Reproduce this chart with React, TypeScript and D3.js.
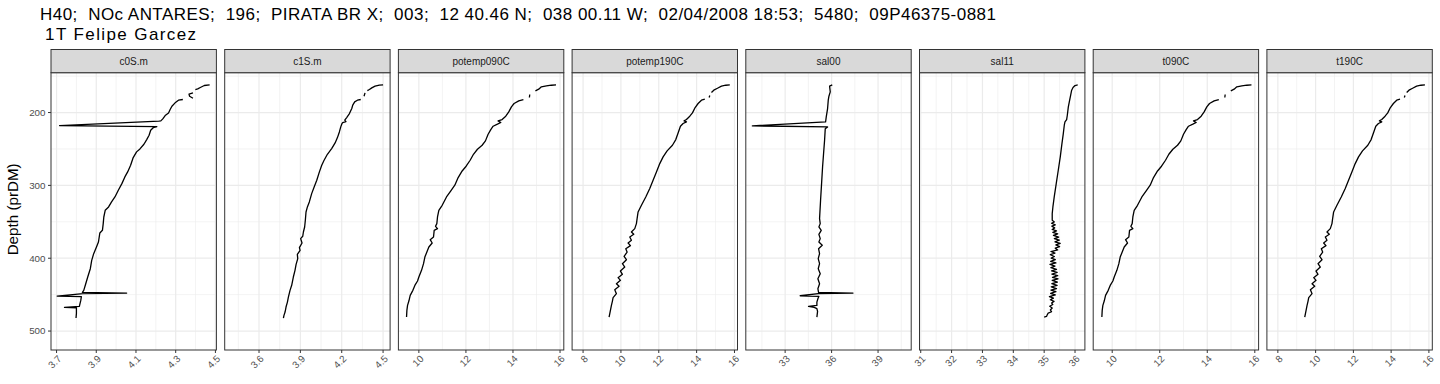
import React from "react";
import * as d3 from "d3";

type Pt = [number, number] | null;

const titleLine1 = "H40;  NOc ANTARES;  196;  PIRATA BR X;  003;  12 40.46 N;  038 00.11 W;  02/04/2008 18:53;  5480;  09P46375-0881";
const titleLine2 = " 1T Felipe Garcez";
const yTitle = "Depth (prDM)";

const panelNames = ["c0S.m", "c1S.m", "potemp090C", "potemp190C", "sal00", "sal11", "t090C", "t190C"];

const depthDomain = [145.3, 526];
const depthMajor = [200, 300, 400, 500];
const depthMinor = [150, 250, 350, 450];

// [depth, value]; null = gap
const c0S: Pt[] = [
  [162.0, 4.471], [162.9, 4.444], [165.6, 4.424], [167.5, 4.411], [168.4, 4.399], null,
  [173.0, 4.387], [174.8, 4.367], [177.6, 4.370], [180.3, 4.387], null,
  [182.1, 4.336], [183.1, 4.314], [186.7, 4.297], [191.3, 4.281], [195.9, 4.272], [200.5, 4.264],
  [204.1, 4.247], [208.7, 4.235], [211.5, 4.225], [211.9, 4.215], [217.9, 3.715], [219.2, 4.205],
  [220.6, 4.188], [224.3, 4.174], [231.1, 4.166], [237.1, 4.154], [243.5, 4.140], [249.9, 4.120],
  [254.0, 4.103], [261.8, 4.086], [272.4, 4.073], [281.5, 4.058], [288.4, 4.044], [297.6, 4.029],
  [306.7, 4.011], [315.9, 3.994], [322.7, 3.977], [329.6, 3.962], [334.2, 3.945], [343.4, 3.938],
  [352.5, 3.935], [361.7, 3.931], [365.3, 3.918], [377.7, 3.911], [384.6, 3.901], [393.7, 3.887],
  [402.9, 3.877], [414.4, 3.870], [425.8, 3.857], [435.0, 3.847], [444.1, 3.837], [446.9, 3.830],
  [447.8, 4.053], [448.7, 3.833], [451.9, 3.703], [452.7, 3.825], [457.9, 3.822], [464.8, 3.816],
  [466.1, 3.815], [467.6, 3.740], [468.0, 3.800], [475.7, 3.800], [482.1, 3.798],
];

const c1S: Pt[] = [
  [162.0, 4.500], [162.5, 4.473], [163.8, 4.442], [166.1, 4.418], [168.4, 4.401], [169.8, 4.386], null,
  [173.0, 4.369], [177.6, 4.362], null,
  [182.1, 4.338], [183.1, 4.314], [185.3, 4.294], [189.9, 4.280], [194.5, 4.273], [201.4, 4.256],
  [206.9, 4.236], [210.5, 4.222], [212.4, 4.231], [213.7, 4.207], [216.0, 4.200], [219.7, 4.193],
  [226.6, 4.183], [234.4, 4.169], [241.7, 4.152], [249.5, 4.127], [257.3, 4.096], [265.5, 4.072],
  [272.4, 4.055], [281.5, 4.038], [293.0, 4.019], [302.1, 4.000], [311.3, 3.982], [322.7, 3.965],
  [329.6, 3.951], [336.5, 3.941], [347.9, 3.936], [357.1, 3.931], [364.0, 3.922], [369.9, 3.917],
  [373.1, 3.902], [379.1, 3.912], [385.5, 3.893], [389.2, 3.898], [394.7, 3.878], [400.6, 3.881],
  [408.4, 3.869], [416.6, 3.861], [425.8, 3.849], [437.2, 3.837], [444.1, 3.825], [453.3, 3.813],
  [460.2, 3.806], [467.0, 3.796], [473.9, 3.789], [478.5, 3.781], [482.1, 3.777],
];

const potemp090C: Pt[] = [
  [162.0, 15.83], [162.5, 15.632], [163.4, 15.42], [164.7, 15.207], [167.9, 15.094], [170.2, 14.953], null,
  [175.3, 14.712], [179.4, 14.698], null,
  [182.1, 14.443], [184.0, 14.245], [187.6, 14.047], [192.2, 13.934], [199.1, 13.821], [205.0, 13.693],
  [209.6, 13.538], [211.5, 13.368], [213.7, 13.481], [216.0, 13.339], [218.8, 13.156], [223.4, 13.057],
  [229.8, 12.943], [238.9, 12.83], [244.9, 12.689], [250.4, 12.49], [257.3, 12.321], [265.5, 12.179],
  [273.7, 12.009], [280.2, 11.84], [289.3, 11.67], [299.8, 11.528], [307.6, 11.358], [315.9, 11.174],
  [327.3, 10.991], [334.2, 10.849], [343.4, 10.792], [352.5, 10.764], [356.2, 10.708], [359.4, 10.792],
  [361.7, 10.651], [370.8, 10.623], [374.5, 10.481], [379.1, 10.566], [384.6, 10.425], [391.5, 10.34],
  [398.4, 10.255], [407.5, 10.198], [416.6, 10.113], [425.8, 10.0], [431.3, 9.943], [437.3, 9.83],
  [444.1, 9.745], [451.0, 9.632], [458.8, 9.575], [464.7, 9.519], [471.6, 9.491], [480.8, 9.476],
];

const potemp190C: Pt[] = [
  [162.0, 15.753], [162.5, 15.542], [163.8, 15.313], [166.6, 15.101], [169.3, 14.907], [172.5, 14.784], null,
  [176.6, 14.696], [179.4, 14.661], null,
  [181.7, 14.432], [183.1, 14.256], [187.6, 14.079], [193.1, 13.921], [200.5, 13.78], [205.0, 13.639],
  [209.6, 13.463], [211.5, 13.339], [212.8, 13.463], [215.1, 13.286], [218.8, 13.145], [226.6, 13.04],
  [237.1, 12.899], [244.9, 12.722], [252.7, 12.441], [260.9, 12.229], [270.1, 12.053], [281.5, 11.877],
  [293.0, 11.7], [304.4, 11.524], [315.9, 11.313], [327.3, 11.084], [336.5, 10.907], [345.6, 10.855],
  [352.5, 10.819], [359.4, 10.731], [364.0, 10.555], [367.2, 10.678], [370.8, 10.467], [375.4, 10.555],
  [379.1, 10.379], [382.7, 10.502], [386.9, 10.256], [391.5, 10.326], [397.5, 10.167], [402.0, 10.291],
  [407.5, 10.079], [412.1, 10.203], [417.6, 9.974], [422.1, 10.079], [426.7, 9.85], [430.4, 9.974],
  [435.0, 9.762], [438.6, 9.903], [443.2, 9.674], [448.7, 9.762], [454.2, 9.586], [458.8, 9.551],
  [464.7, 9.498], [471.6, 9.445], [480.8, 9.374],
];

const sal00: Pt[] = [
  [162.0, 36.043], [163.8, 35.871], [171.6, 35.914], [177.6, 35.828], [183.1, 35.784], [194.5, 35.741],
  [206.0, 35.655], [212.8, 35.612], [218.3, 30.885], [219.7, 35.741], [222.4, 35.59], [238.0, 35.547],
  [256.3, 35.482], [274.7, 35.417], [297.6, 35.353], [320.5, 35.288], [345.6, 35.223], [352.5, 35.266],
  [357.1, 35.18], [361.7, 35.331], [367.2, 35.18], [373.1, 35.266], [377.7, 35.18], [382.3, 35.396],
  [386.9, 35.158], [393.7, 35.223], [400.6, 35.137], [407.5, 35.223], [414.4, 35.137], [421.2, 35.266],
  [428.1, 35.115], [435.0, 35.223], [441.8, 35.115], [446.9, 35.158], [447.8, 37.382], [448.7, 35.137],
  [451.5, 33.971], [452.3, 35.18], [455.6, 35.115], [460.2, 35.05], [464.8, 35.05], [466.1, 34.511],
  [467.4, 34.88], [469.2, 35.05], [473.0, 35.094], [480.8, 35.05],
];

const sal11: Pt[] = [
  [162.0, 36.087], [162.9, 36.0], [165.6, 35.935], [169.3, 35.891], [176.2, 35.859], [183.1, 35.826],
  [192.2, 35.783], [203.7, 35.75], [209.6, 35.728], [212.8, 35.674], [217.4, 35.652], [228.9, 35.62],
  [242.6, 35.576], [260.9, 35.522], [279.2, 35.457], [297.6, 35.391], [315.9, 35.326], [329.6, 35.283],
  [338.8, 35.261], [347.9, 35.261], [350.2, 35.33], [352.0, 35.24], [354.1, 35.36], [356.0, 35.25],
  [358.3, 35.34], [360.5, 35.26], [362.6, 35.40], [364.4, 35.28], [366.6, 35.44], [368.6, 35.30],
  [370.9, 35.47], [373.0, 35.33], [375.2, 35.49], [377.4, 35.35], [379.6, 35.52], [381.8, 35.38],
  [384.0, 35.50], [386.2, 35.36], [388.6, 35.44], [390.8, 35.22], [393.0, 35.35], [395.2, 35.20],
  [397.6, 35.33], [399.8, 35.23], [402.0, 35.36], [404.2, 35.21], [406.5, 35.38], [408.6, 35.19],
  [410.9, 35.35], [413.0, 35.22], [415.3, 35.40], [417.4, 35.24], [419.6, 35.42], [421.8, 35.25],
  [424.0, 35.44], [426.2, 35.27], [428.4, 35.45], [430.5, 35.26], [432.8, 35.43], [435.0, 35.25],
  [437.2, 35.42], [439.4, 35.23], [441.6, 35.40], [443.8, 35.22], [446.0, 35.38], [448.2, 35.21],
  [450.4, 35.36], [452.6, 35.17], [454.8, 35.30], [457.0, 35.20], [459.2, 35.32], [461.4, 35.24],
  [463.6, 35.28], [466.0, 35.18], [468.4, 35.26], [471.0, 35.20], [473.5, 35.24], [475.3, 35.13],
  [477.6, 35.10], [479.9, 35.076], [480.8, 35.0],
];

const t090C: Pt[] = [
  [162.0, 15.86], [162.5, 15.664], [163.4, 15.454], [164.7, 15.243], [167.9, 15.131], [170.2, 14.991], null,
  [175.3, 14.753], [179.4, 14.739], null,
  [182.1, 14.486], [184.0, 14.29], [187.6, 14.094], [192.2, 13.981], [199.1, 13.869], [205.0, 13.743],
  [209.6, 13.589], [211.5, 13.421], [213.7, 13.533], [216.0, 13.393], [218.8, 13.21], [223.4, 13.112],
  [229.8, 13.0], [238.9, 12.888], [244.9, 12.748], [250.4, 12.552], [257.3, 12.383], [265.5, 12.243],
  [273.7, 12.075], [280.2, 11.907], [289.3, 11.738], [299.8, 11.598], [307.6, 11.43], [315.9, 11.248],
  [327.3, 11.065], [334.2, 10.925], [343.4, 10.869], [352.5, 10.841], [356.2, 10.785], [359.4, 10.869],
  [361.7, 10.729], [370.8, 10.701], [374.5, 10.561], [379.1, 10.645], [384.6, 10.505], [391.5, 10.421],
  [398.4, 10.336], [407.5, 10.28], [416.6, 10.196], [425.8, 10.084], [431.3, 10.028], [437.3, 9.916],
  [444.1, 9.832], [451.0, 9.72], [458.8, 9.664], [464.7, 9.607], [471.6, 9.579], [480.8, 9.565],
];

const t190C: Pt[] = [
  [162.0, 15.789], [162.5, 15.578], [163.8, 15.349], [166.6, 15.138], [169.3, 14.945], [172.5, 14.822], null,
  [176.6, 14.734], [179.4, 14.699], null,
  [181.7, 14.47], [183.1, 14.295], [187.6, 14.119], [193.1, 13.96], [200.5, 13.82], [205.0, 13.679],
  [209.6, 13.503], [211.5, 13.38], [212.8, 13.503], [215.1, 13.327], [218.8, 13.187], [226.6, 13.081],
  [237.1, 12.941], [244.9, 12.765], [252.7, 12.484], [260.9, 12.273], [270.1, 12.097], [281.5, 11.921],
  [293.0, 11.745], [304.4, 11.569], [315.9, 11.358], [327.3, 11.13], [336.5, 10.954], [345.6, 10.901],
  [352.5, 10.866], [359.4, 10.778], [364.0, 10.602], [367.2, 10.725], [370.8, 10.514], [375.4, 10.602],
  [379.1, 10.426], [382.7, 10.549], [386.9, 10.303], [391.5, 10.374], [397.5, 10.215], [402.0, 10.338],
  [407.5, 10.127], [412.1, 10.25], [417.6, 10.022], [422.1, 10.127], [426.7, 9.899], [430.4, 10.022],
  [435.0, 9.811], [438.6, 9.952], [443.2, 9.723], [448.7, 9.811], [454.2, 9.635], [458.8, 9.6],
  [464.7, 9.547], [471.6, 9.495], [480.8, 9.424],
];

const xDomains: [number, number][] = [
  [3.672, 4.505], [3.351, 4.551], [9.13, 16.16], [7.42, 16.16],
  [30.46, 41.14], [30.96, 36.32], [9.2, 16.16], [7.42, 16.18],
];
const xMajor: number[][] = [
  [3.7, 3.9, 4.1, 4.3, 4.5], [3.6, 3.9, 4.2, 4.5], [10, 12, 14, 16], [8, 10, 12, 14, 16],
  [33, 36, 39], [31, 32, 33, 34, 35, 36], [10, 12, 14, 16], [8, 10, 12, 14, 16],
];
const xMinor: number[][] = [
  [3.8, 4.0, 4.2, 4.4], [3.45, 3.75, 4.05, 4.35], [11, 13, 15], [9, 11, 13, 15],
  [31.5, 34.5, 37.5, 40.5], [31.5, 32.5, 33.5, 34.5, 35.5], [11, 13, 15], [9, 11, 13, 15],
];
const seriesList: Pt[][] = [c0S, c1S, potemp090C, potemp190C, sal00, sal11, t090C, t190C];

export default function App() {
  const W = 1440, H = 384;
  const left0 = 51, pw = 165.4, gap = 8.3;
  const stripTop = 49.5, panelTop = 72.7, panelBottom = 350;
  const font = "'Liberation Sans', Arial, Helvetica, sans-serif";
  const y = d3.scaleLinear().domain(depthDomain).range([panelTop, panelBottom]);
  const fmt = (v: number) => String(v);

  return (
    <svg width={W} height={H} style={{ position: "absolute", left: 0, top: 0, background: "#fff" }} fontFamily={font}>
      <style>{`body{margin:0}`}</style>
      <rect x={0} y={0} width={W} height={H} fill="#fff" />
      <text x={40} y={20} fontSize={17} fill="#000" style={{ whiteSpace: "pre" }} textLength={956} lengthAdjust="spacing">{titleLine1}</text>
      <text x={39} y={39.5} fontSize={17} fill="#000" style={{ whiteSpace: "pre" }} textLength={157} lengthAdjust="spacing">{titleLine2}</text>
      <text transform={`translate(18,${(panelTop + panelBottom) / 2 - 2}) rotate(-90)`} textAnchor="middle" fontSize={15.2} fill="#000">{yTitle}</text>
      {depthMajor.map((d) => (
        <g key={"yt" + d}>
          <line x1={left0 - 3} x2={left0} y1={y(d)} y2={y(d)} stroke="#333" strokeWidth={1} />
          <text x={left0 - 5.5} y={y(d)} dy="0.35em" textAnchor="end" fontSize={9.8} fill="#4D4D4D">{d}</text>
        </g>
      ))}
      {panelNames.map((name, i) => {
        const x0 = left0 + i * (pw + gap);
        const x = d3.scaleLinear().domain(xDomains[i]).range([x0, x0 + pw]);
        const line = d3.line<Pt>()
          .defined((p) => p !== null)
          .x((p) => x((p as [number, number])[1]))
          .y((p) => y((p as [number, number])[0]));
        return (
          <g key={name}>
            <rect x={x0} y={panelTop} width={pw} height={panelBottom - panelTop} fill="#fff" />
            {depthMinor.map((d) => (
              <line key={"ym" + d} x1={x0} x2={x0 + pw} y1={y(d)} y2={y(d)} stroke="#EBEBEB" strokeWidth={0.6} />
            ))}
            {xMinor[i].map((v) => (
              <line key={"xm" + v} x1={x(v)} x2={x(v)} y1={panelTop} y2={panelBottom} stroke="#EBEBEB" strokeWidth={0.6} />
            ))}
            {depthMajor.map((d) => (
              <line key={"yM" + d} x1={x0} x2={x0 + pw} y1={y(d)} y2={y(d)} stroke="#EBEBEB" strokeWidth={1.2} />
            ))}
            {xMajor[i].map((v) => (
              <line key={"xM" + v} x1={x(v)} x2={x(v)} y1={panelTop} y2={panelBottom} stroke="#EBEBEB" strokeWidth={1.2} />
            ))}
            <path d={line(seriesList[i]) || ""} fill="none" stroke="#000" strokeWidth={1.3} strokeLinejoin="round" strokeLinecap="butt" />
            <rect x={x0} y={panelTop} width={pw} height={panelBottom - panelTop} fill="none" stroke="#333" strokeWidth={1} />
            <rect x={x0} y={stripTop} width={pw} height={panelTop - stripTop} fill="#D9D9D9" stroke="#333" strokeWidth={1} />
            <text x={x0 + pw / 2} y={(stripTop + panelTop) / 2} dy="0.35em" textAnchor="middle" fontSize={10} fill="#1A1A1A">{name}</text>
            {xMajor[i].map((v) => (
              <g key={"xt" + v}>
                <line x1={x(v)} x2={x(v)} y1={panelBottom} y2={panelBottom + 3} stroke="#333" strokeWidth={1} />
                <text transform={`translate(${x(v) + 3},${panelBottom + 7}) rotate(-45)`} textAnchor="end" dy="0.35em" fontSize={9.8} fill="#4D4D4D">{fmt(v)}</text>
              </g>
            ))}
          </g>
        );
      })}
    </svg>
  );
}
